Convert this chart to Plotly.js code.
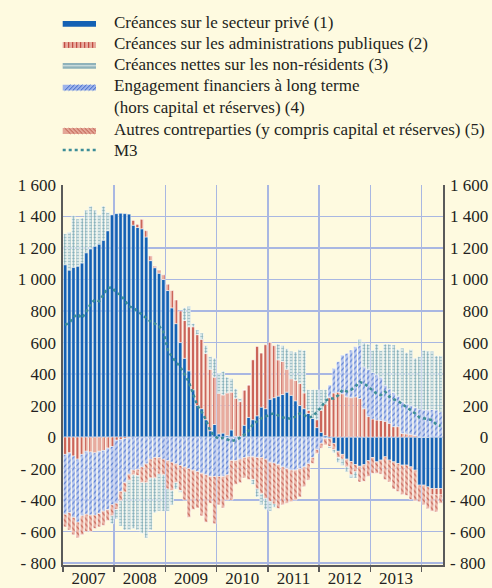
<!DOCTYPE html>
<html>
<head>
<meta charset="utf-8">
<script src="https://cdn.plot.ly/plotly-3.0.1.min.js"></script>
<style>html,body{margin:0;padding:0;background:#fefae0;}#chart{width:492px;height:588px;}</style>
</head>
<body>
<div id="chart"></div>
<script>
// Months: Jan 2007 - May 2014
const months = [
 '2007-01','2007-02','2007-03','2007-04','2007-05','2007-06','2007-07','2007-08','2007-09','2007-10','2007-11','2007-12',
 '2008-01','2008-02','2008-03','2008-04','2008-05','2008-06','2008-07','2008-08','2008-09','2008-10','2008-11','2008-12',
 '2009-01','2009-02','2009-03','2009-04','2009-05','2009-06','2009-07','2009-08','2009-09','2009-10','2009-11','2009-12',
 '2010-01','2010-02','2010-03','2010-04','2010-05','2010-06','2010-07','2010-08','2010-09','2010-10','2010-11','2010-12',
 '2011-01','2011-02','2011-03','2011-04','2011-05','2011-06','2011-07','2011-08','2011-09','2011-10','2011-11','2011-12',
 '2012-01','2012-02','2012-03','2012-04','2012-05','2012-06','2012-07','2012-08','2012-09','2012-10','2012-11','2012-12',
 '2013-01','2013-02','2013-03','2013-04','2013-05','2013-06','2013-07','2013-08','2013-09','2013-10','2013-11','2013-12',
 '2014-01','2014-02','2014-03','2014-04','2014-05'
];

// (1) Créances sur le secteur privé
const prive = [
 1094,1060,1078,1085,1105,1170,1195,1212,1225,1250,1310,1410,
 1418,1420,1418,1415,1345,1330,1322,1270,1120,1075,1040,1000,
 930,820,720,600,500,420,300,200,180,110,40,80,
 20,25,10,45,5,5,75,125,110,135,190,180,
 240,250,260,270,285,265,230,200,180,150,120,60,
 30,10,-10,-40,-90,-110,-140,-155,-175,-185,-175,-150,
 -130,-157,-146,-125,-146,-157,-168,-178,-178,-189,-210,-305,
 -305,-316,-327,-327,-327
];
// (2) Créances sur les administrations publiques
const admin = [
 -110,-100,-120,-140,-110,-90,-95,-100,-90,-85,-70,-60,
 -20,-15,-10,-5,30,20,60,40,30,10,20,30,
 40,110,150,200,240,280,400,450,440,420,390,300,
 258,242,270,240,241,220,224,206,380,440,343,406,
 360,330,230,210,145,105,130,140,100,20,0,50,
 140,200,250,280,285,275,255,250,255,245,180,130,
 115,108,105,100,87,66,66,23,20,15,10,0,
 0,0,-40,-40,-40
];
// (3) Créances nettes sur les non-résidents
const nonres = [
 196,240,327,300,285,270,270,228,185,215,115,-50,
 -60,-160,-240,-315,-340,-345,-320,-350,-330,-220,-235,-230,
 -140,-90,-40,-10,80,130,20,30,40,50,80,120,
 127,150,100,85,60,20,0,0,-30,-50,-70,-70,
 -60,-20,100,100,130,175,180,215,270,130,180,190,
 130,90,-10,-20,-30,-40,-30,-20,-40,40,150,160,
 140,195,170,260,285,302,295,340,325,355,312,332,
 378,373,370,343,355
];
// (4) Engagements financiers à long terme
const longterme = [
 -380,-380,-390,-400,-390,-400,-400,-395,-395,-385,-390,-370,
 -400,-330,-280,-230,-210,-205,-190,-170,-140,-130,-130,-140,
 -150,-160,-170,-180,-190,-200,-210,-220,-230,-240,-250,-250,
 -250,-250,-240,-150,-150,-140,-130,-125,-125,-130,-130,-140,
 -160,-165,-175,-190,-200,-210,-210,-200,-190,-170,-130,-80,
 -40,-10,80,156,193,245,276,302,318,335,266,300,
 295,287,275,230,218,217,194,202,190,185,178,178,
 172,172,175,172,160
];
// (5) Autres contreparties
const autres = [
 -80,-110,-110,-100,-120,-110,-105,-85,-85,-90,-70,-70,
 -40,-60,-60,-40,-30,-40,-100,-120,-120,-130,-105,-100,
 -180,-180,-120,-160,-210,-310,-250,-230,-270,-300,-170,-300,
 -180,-200,-160,-250,-150,-150,-130,-145,-145,-200,-230,-250,
 -250,-260,-278,-240,-220,-200,-190,-180,-125,-103,-37,-24,
 -30,-40,-50,-40,-40,-30,-50,-85,-45,-100,-105,-100,
 -100,-73,-89,-145,-139,-173,-177,-187,-192,-206,-195,-105,
 -125,-139,-103,-108,-53
];
// M3
const m3 = [
 713,724,760,780,755,795,845,872,862,905,946,950,
 915,904,870,830,820,800,780,755,734,720,705,670,
 555,510,480,445,400,350,275,200,160,110,40,5,
 -10,-5,-15,-25,-20,-5,15,40,80,100,120,130,
 145,150,140,125,120,115,130,150,140,125,130,160,
 190,230,245,245,265,300,290,300,320,350,340,320,
 295,275,266,288,256,240,230,210,195,175,150,125,
 118,115,108,80,70
];

const yTickVals = [-800,-600,-400,-200,0,200,400,600,800,1000,1200,1400,1600];
const yTickText = ['- 800','- 600','- 400','- 200','0','200','400','600','800','1 000','1 200','1 400','1 600'];
// right-hand labels padded (figure space / no-break space) so they line up on the right
const yTickTextRight = ['- 800','- 600','- 400','- 200','\u2007\u2007\u2007\u00a00','\u2007\u00a0200','\u2007\u00a0400','\u2007\u00a0600','\u2007\u00a0800','1 000','1 200','1 400','1 600'];

const legendLabels = [
  'Créances sur le secteur privé (1)',
  'Créances sur les administrations publiques (2)',
  'Créances nettes sur les non-résidents (3)',
  'Engagement financiers à long terme',
  '(hors capital et réserves) (4)',
  'Autres contreparties (y compris capital et réserves) (5)',
  'M3'
];

// ---------- styles ----------
const COL = {
  prive:'#1461b4',
  adminBg:'#e8ab9e', adminFg:'#b8362a',
  nonresBg:'#d2e3e5', nonresFg:'#6f9ea8',
  ltBg:'#b8c8f0', ltFg:'#5f82d2',
  autresBg:'#ecb7aa', autresFg:'#c8685a',
  m3:'#3d8d97'
};
const BARW = 2.05e9;
const edge = {color:'#ffffff', width:0.5};
function bar(y, marker){
  return {type:'bar', x:months, y:y, showlegend:false,
    xperiod:'M1', xperiodalignment:'middle', width:BARW,
    marker:Object.assign({line:edge}, marker), hoverinfo:'skip'};
}
// stacking order: (1), (2), (4), (5), (3)
const traces = [
  bar(prive, {color:COL.prive}),
  bar(admin, {color:COL.adminBg, pattern:{shape:'|', fgcolor:COL.adminFg, bgcolor:COL.adminBg, size:4, solidity:0.3, fillmode:'replace'}}),
  bar(longterme, {color:COL.ltBg, pattern:{shape:'/', fgcolor:COL.ltFg, bgcolor:COL.ltBg, size:4, solidity:0.3, fillmode:'replace'}}),
  bar(autres, {color:COL.autresBg, pattern:{shape:'\\', fgcolor:COL.autresFg, bgcolor:COL.autresBg, size:4, solidity:0.3, fillmode:'replace'}}),
  bar(nonres, {color:COL.nonresBg, pattern:{shape:'+', fgcolor:COL.nonresFg, bgcolor:COL.nonresBg, size:3, solidity:0.3, fillmode:'replace'}}),
  {type:'scatter', mode:'lines', x:months, y:m3, showlegend:false,
   xperiod:'M1', xperiodalignment:'middle', yaxis:'y2',
   line:{color:COL.m3, width:2.5, dash:'dot'}, hoverinfo:'skip'}
];

// ---------- hand-drawn legend (paper coordinates) ----------
const W = 492, H = 588, ML = 63, MR = 49, MT = 185, MB = 23;
const PW = W - ML - MR, PH = H - MT - MB;
const px = x => (x - ML) / PW;
const py = y => (H - MB - y) / PH;
const legTextX = 111.5;
const legTextY = [22.7, 43.3, 64, 86, 108, 129.3, 150];
const symX0 = 62.7, symX1 = 96, symH = 5.8;
const symY = [23.8, 45, 65.8, 87.7, null, 131, 150];

const shapes = [];
const annotations = [];
const font = {family:'Liberation Serif, Times New Roman, serif', size:17, color:'#231f20'};
legendLabels.forEach((t, i) => {
  annotations.push({xref:'paper', yref:'paper', x:px(legTextX), y:py(legTextY[i]), xanchor:'left', yanchor:'middle',
    text:t, showarrow:false, font:font});
});
function rect(i, fill){
  const c = symY[i];
  shapes.push({type:'rect', xref:'paper', yref:'paper', x0:px(symX0), x1:px(symX1), y0:py(c + symH/2), y1:py(c - symH/2),
    fillcolor:fill, line:{width:0}, layer:'above'});
}
function stripes(i, color, kind){
  const c = symY[i], t = c - symH/2, b = c + symH/2;
  let d = '';
  for (let x = symX0 + 2; x < symX1; x += 4) {
    if (kind === '|') d += `M${px(x)},${py(t)}L${px(x)},${py(b)}`;
    if (kind === '/') { const x2 = Math.min(x + symH, symX1); d += `M${px(x)},${py(b)}L${px(x2)},${py(b - (x2 - x))}`; }
    if (kind === '\\') { const x2 = Math.min(x + symH, symX1); d += `M${px(x)},${py(t)}L${px(x2)},${py(t + (x2 - x))}`; }
  }
  if (kind === '-') d = `M${px(symX0)},${py(c)}L${px(symX1)},${py(c)}`;
  shapes.push({type:'path', xref:'paper', yref:'paper', path:d, line:{color:color, width:1}, layer:'above'});
}
rect(0, COL.prive);
rect(1, COL.adminBg); stripes(1, COL.adminFg, '|');
rect(2, '#8fb2ba'); stripes(2, '#dfeaea', '-');
rect(3, '#9db3ea'); stripes(3, '#3f67c8', '/');
rect(5, '#e4a697'); stripes(5, '#bd5d4d', '\\');
shapes.push({type:'line', xref:'paper', yref:'paper', x0:px(symX0), x1:px(symX1), y0:py(symY[6]), y1:py(symY[6]),
  line:{color:COL.m3, width:2.5, dash:'dot'}, layer:'above'});

// ---------- axes ----------
const gridc = '#a9b7e2';
const yax = {
  range:[-812,1600], tickvals:yTickVals, ticktext:yTickText, showgrid:true, gridcolor:gridc, gridwidth:1.4,
  zeroline:false, showline:true, linecolor:'#5a5a5a', linewidth:1.6, ticks:'', ticklabelstandoff:2,
  tickfont:font, automargin:false, fixedrange:true
};
const layout = {
  width:W, height:H,
  margin:{l:ML, r:MR, t:MT, b:MB, pad:0},
  paper_bgcolor:'#fefae0', plot_bgcolor:'#fefae0',
  font:font,
  barmode:'relative',
  showlegend:false,
  shapes:shapes,
  annotations:annotations,
  xaxis:{type:'date', range:['2007-01-01','2014-06-03'], dtick:'M12', tick0:'2007-01-01',
         ticklabelmode:'period', tickformat:'%Y', ticks:'outside', ticklen:5, tickwidth:1.4, tickcolor:'#5a5a5a',
         ticklabelstandoff:-8,
         showgrid:true, gridcolor:gridc, gridwidth:1.4, showline:true, linecolor:'#5a5a5a', linewidth:1.6,
         tickfont:font, automargin:false, fixedrange:true},
  yaxis:yax,
  yaxis2:Object.assign({}, yax, {overlaying:'y', side:'right', showgrid:false, ticktext:yTickTextRight}),
};
Plotly.newPlot('chart', traces, layout, {staticPlot:true, displayModeBar:false});
</script>
</body>
</html>
